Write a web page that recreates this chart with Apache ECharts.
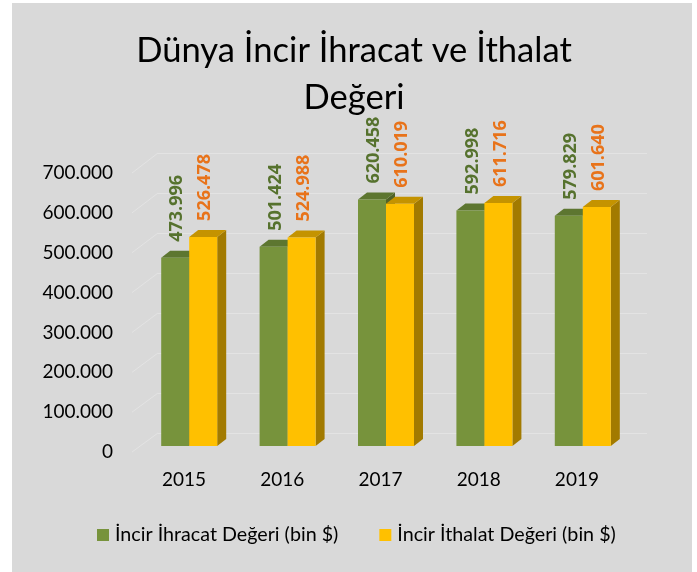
<!DOCTYPE html>
<html>
<head>
<meta charset="utf-8">
<script src="https://cdn.jsdelivr.net/npm/echarts@6/dist/echarts.min.js"></script>
<style>
  html, body { margin: 0; padding: 0; background: #ffffff; }
  #bg { position: absolute; left: 12px; top: 3px; width: 680px; height: 569px; background: #d9d9d9; }
  #chart { position: absolute; left: 0; top: 0; width: 697px; height: 572px; }
</style>
</head>
<body>
<div id="bg"></div>
<div id="chart"></div>
<script>
const years = ['2015', '2016', '2017', '2018', '2019'];
const ihracat = [473996, 501424, 620458, 592998, 579829];
const ithalat = [526478, 524988, 610019, 611716, 601640];
const seriesNames = ['İncir İhracat Değeri (bin $)', 'İncir İthalat Değeri (bin $)'];
const yTicks = [0, 100000, 200000, 300000, 400000, 500000, 600000, 700000];
const titleText = 'Dünya İncir İhracat ve İthalat\nDeğeri';

const FONT = 'Lato';
const LABEL_FONT = "'Open Sans'";
const fmt = n => String(n).replace(/\B(?=(\d{3})+(?!\d))/g, '.');

const BAR_W = 28, DX = 9, DY = 7;
const styles = [
  { front: '#77933C', top: '#5D7630', side: '#4F6228', label: '#56722E' },
  { front: '#FFC000', top: '#C49300', side: '#A27A00', label: '#E8731A' }
];

function makeRender(idx) {
  return function (params, api) {
    const cat = api.value(0), val = api.value(1);
    const base = api.coord([cat, 0]);
    const top = api.coord([cat, val]);
    const s = styles[idx];
    const x0 = idx === 0 ? base[0] - BAR_W : base[0];
    const x1 = x0 + BAR_W;
    const yT = top[1], yB = base[1];
    return {
      type: 'group',
      children: [
        { type: 'polygon', shape: { points: [[x1, yT], [x1 + DX, yT - DY], [x1 + DX, yB - DY], [x1, yB]] },
          style: { fill: s.side } },
        { type: 'polygon', shape: { points: [[x0, yT], [x0 + DX, yT - DY], [x1 + DX, yT - DY], [x1, yT]] },
          style: { fill: s.top } },
        { type: 'rect', shape: { x: x0, y: yT, width: BAR_W, height: yB - yT },
          style: { fill: s.front } },
        { type: 'text', x: x0 + BAR_W / 2 + 2, y: yT - 16, rotation: Math.PI / 2,
          style: { text: fmt(val), fill: s.label, font: 'bold 18px ' + LABEL_FONT, align: 'left', verticalAlign: 'middle' } }
      ]
    };
  };
}

const chart = echarts.init(document.getElementById('chart'), null, { renderer: 'canvas' });
const option = {
  backgroundColor: 'transparent',
  animation: false,
  title: {
    text: titleText, left: 354, top: 27, padding: 0, textAlign: 'center',
    textStyle: { fontFamily: FONT, fontSize: 34.6, fontWeight: 'normal', color: '#000', lineHeight: 47 }
  },
  legend: {
    left: 97, top: 525, padding: 0, itemWidth: 12, itemHeight: 12, itemGap: 41, icon: 'rect',
    data: seriesNames,
    textStyle: { fontFamily: FONT, fontSize: 19.7, color: '#000', padding: [0, 0, 0, 1] }
  },
  grid: [
    { left: 140, top: 168, width: 492, height: 278 },
    { left: 158, top: 153, width: 489, height: 280 },
    { left: 135, top: 173, width: 491, height: 279 }
  ],
  xAxis: [
    { gridIndex: 0, type: 'category', data: years, show: false },
    { gridIndex: 1, type: 'category', data: years, show: false },
    { gridIndex: 2, type: 'category', data: years, axisLine: { show: false }, axisTick: { show: false },
      axisLabel: { fontFamily: FONT, fontSize: 19, color: '#000', margin: 18 } }
  ],
  yAxis: [
    { gridIndex: 0, type: 'value', min: 0, max: 700000, interval: 100000, show: false },
    { gridIndex: 1, type: 'value', min: 0, max: 700000, interval: 100000,
      axisLine: { show: false }, axisTick: { show: false }, axisLabel: { show: false },
      splitLine: { show: true, lineStyle: { color: '#e3e3e3', width: 1 } } },
    { gridIndex: 2, type: 'value', min: 0, max: 700000, interval: 100000,
      axisLine: { show: false }, axisTick: { show: false }, splitLine: { show: false },
      axisLabel: { fontFamily: FONT, fontSize: 19, color: '#000', margin: 22, formatter: v => fmt(v) } }
  ],
  series: [
    { name: seriesNames[0], type: 'custom', xAxisIndex: 0, yAxisIndex: 0,
      itemStyle: { color: styles[0].front }, renderItem: makeRender(0),
      data: years.map((y, i) => [i, ihracat[i]]) },
    { name: seriesNames[1], type: 'custom', xAxisIndex: 0, yAxisIndex: 0,
      itemStyle: { color: styles[1].front }, renderItem: makeRender(1),
      data: years.map((y, i) => [i, ithalat[i]]) }
  ]
};
chart.setOption(option);

// left-wall slanted gridline segments joining front plane to back wall
const backLeft = option.grid[1].left;
const slantLeft = 132;
const wallLines = yTicks.map(v => {
  const pf = chart.convertToPixel({ gridIndex: 2 }, [0, v]);
  const pb = chart.convertToPixel({ gridIndex: 1 }, [0, v]);
  return { type: 'line', z: 0, silent: true,
    shape: { x1: slantLeft, y1: pf[1], x2: backLeft, y2: pb[1] },
    style: { stroke: '#e3e3e3', lineWidth: 1 } };
});
chart.setOption({ graphic: wallLines });
</script>
</body>
</html>
